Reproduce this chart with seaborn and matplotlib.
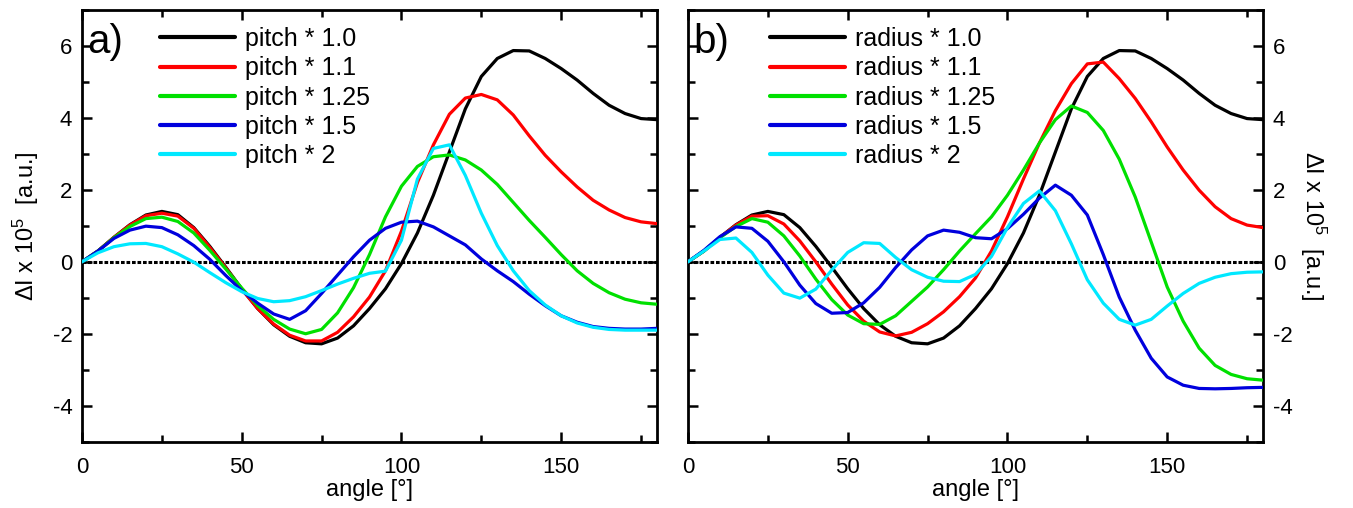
import matplotlib
matplotlib.use("Agg")
import matplotlib.pyplot as plt
import seaborn as sns
import pandas as pd
from matplotlib.ticker import MultipleLocator

# angle grid in degrees, values every 5 deg
angle = list(range(0, 181, 5))

# same base curve in both panels (pitch * 1.0 == radius * 1.0)
base = [0.0, 0.3, 0.68, 1.03, 1.3, 1.4, 1.31, 0.95, 0.43, -0.15, -0.75, -1.3, -1.75,
        -2.07, -2.25, -2.28, -2.12, -1.78, -1.3, -0.75, -0.05, 0.8, 1.85, 3.05, 4.25,
        5.15, 5.65, 5.87, 5.86, 5.65, 5.37, 5.05, 4.68, 4.35, 4.12, 3.98, 3.95]

pitch_11 = [0.0, 0.3, 0.68, 1.02, 1.28, 1.35, 1.27, 0.93, 0.4, -0.17, -0.76, -1.3, -1.73,
            -2.04, -2.2, -2.2, -1.96, -1.53, -0.98, -0.25, 0.85, 2.2, 3.25, 4.1, 4.55,
            4.65, 4.5, 4.08, 3.5, 2.96, 2.5, 2.08, 1.71, 1.44, 1.23, 1.11, 1.06]
pitch_125 = [0.0, 0.3, 0.67, 0.98, 1.2, 1.24, 1.12, 0.8, 0.32, -0.2, -0.73, -1.22, -1.6,
             -1.87, -2.0, -1.88, -1.42, -0.72, 0.2, 1.25, 2.1, 2.65, 2.92, 2.97, 2.83,
             2.55, 2.15, 1.65, 1.15, 0.68, 0.2, -0.25, -0.6, -0.86, -1.04, -1.14, -1.18]
pitch_15 = [0.0, 0.3, 0.65, 0.88, 0.99, 0.95, 0.75, 0.45, 0.07, -0.38, -0.8, -1.15, -1.45,
            -1.6, -1.36, -0.88, -0.37, 0.14, 0.6, 0.93, 1.1, 1.13, 0.97, 0.72, 0.47,
            0.08, -0.25, -0.55, -0.9, -1.22, -1.5, -1.68, -1.8, -1.85, -1.87, -1.87, -1.85]
pitch_2 = [0.0, 0.25, 0.42, 0.5, 0.51, 0.42, 0.22, -0.01, -0.3, -0.58, -0.83, -1.02, -1.11,
           -1.08, -0.97, -0.8, -0.62, -0.46, -0.32, -0.26, 0.6, 2.3, 3.15, 3.25, 2.4,
           1.35, 0.45, -0.25, -0.8, -1.2, -1.5, -1.7, -1.82, -1.88, -1.9, -1.9, -1.9]

radius_11 = [0.0, 0.3, 0.68, 1.02, 1.27, 1.28, 1.05, 0.58, 0.0, -0.62, -1.2, -1.65, -1.95,
             -2.06, -1.96, -1.72, -1.39, -0.97, -0.45, 0.3, 1.25, 2.3, 3.3, 4.2, 4.95,
             5.5, 5.55, 5.09, 4.54, 3.89, 3.19, 2.55, 1.99, 1.53, 1.2, 1.02, 0.95]
radius_125 = [0.0, 0.3, 0.67, 0.98, 1.2, 1.1, 0.72, 0.16, -0.48, -1.05, -1.48, -1.72, -1.74,
              -1.5, -1.1, -0.7, -0.22, 0.3, 0.78, 1.25, 1.85, 2.55, 3.3, 3.95, 4.33,
              4.15, 3.65, 2.85, 1.8, 0.55, -0.7, -1.65, -2.4, -2.88, -3.13, -3.25, -3.29]
radius_15 = [0.0, 0.32, 0.7, 0.97, 0.93, 0.57, 0.0, -0.65, -1.16, -1.43, -1.41, -1.14, -0.71,
             -0.16, 0.33, 0.72, 0.88, 0.82, 0.67, 0.64, 0.92, 1.32, 1.77, 2.13, 1.85,
             1.3, 0.2, -0.98, -1.9, -2.68, -3.2, -3.43, -3.52, -3.53, -3.52, -3.5, -3.49]
radius_2 = [0.0, 0.3, 0.62, 0.66, 0.26, -0.37, -0.87, -1.01, -0.76, -0.23, 0.26, 0.53, 0.51,
            0.12, -0.22, -0.43, -0.54, -0.55, -0.35, 0.15, 0.95, 1.62, 1.97, 1.42, 0.5,
            -0.5, -1.15, -1.6, -1.76, -1.6, -1.23, -0.88, -0.6, -0.43, -0.33, -0.29, -0.28]

pitch_labels = ["pitch * 1.0", "pitch * 1.1", "pitch * 1.25", "pitch * 1.5", "pitch * 2"]
radius_labels = ["radius * 1.0", "radius * 1.1", "radius * 1.25", "radius * 1.5", "radius * 2"]
colors = ["#000000", "#ff0000", "#00e000", "#0000dd", "#00e8ff"]


def to_long(labels, series):
    frames = []
    for lab, vals in zip(labels, series):
        frames.append(pd.DataFrame({"angle": angle, "dI": vals, "curve": lab}))
    return pd.concat(frames, ignore_index=True)


def draw_panel(ax, df, labels, tag, right_side):
    ax.axhline(0, color="black", lw=2.2, ls=(0, (1.2, 0.6)), zorder=1)
    sns.lineplot(data=df, x="angle", y="dI", hue="curve", hue_order=labels,
                 palette=colors, lw=2.3, ax=ax, zorder=3)
    ax.set_xlim(0, 180)
    ax.set_ylim(-5, 7)
    ax.xaxis.set_major_locator(MultipleLocator(50))
    ax.xaxis.set_minor_locator(MultipleLocator(25))
    ax.yaxis.set_major_locator(MultipleLocator(2))
    ax.yaxis.set_minor_locator(MultipleLocator(1))
    ax.tick_params(which="both", direction="in", top=True, bottom=True, left=True,
                   right=True, width=1.8, labelsize=16, colors="black")
    ax.tick_params(axis="x", pad=11)
    ax.tick_params(axis="y", pad=7)
    ax.tick_params(which="major", length=7)
    ax.tick_params(which="minor", length=5)
    for s in ax.spines.values():
        s.set_linewidth(2.0)
        s.set_color("black")
    ax.set_xlabel("angle [°]", fontsize=17, labelpad=1, color="black")
    ylab = r"$\Delta$I x 10$^5$  [a.u.]"
    if right_side:
        ax.tick_params(axis="y", labelleft=False, labelright=True)
        ax.yaxis.set_label_position("right")
        ax.set_ylabel(ylab, fontsize=17, rotation=270, labelpad=26, color="black")
    else:
        ax.set_ylabel(ylab, fontsize=17, labelpad=8, color="black")
    leg = ax.legend(loc="upper left", bbox_to_anchor=(0.136 if not right_side else 0.143, 0.96),
                    frameon=False, fontsize=18, handlelength=3.0, handletextpad=0.4,
                    labelspacing=0.21, borderaxespad=0, borderpad=0)
    for h in leg.get_lines():
        h.set_linewidth(3)
    for t in leg.get_texts():
        t.set_color("black")
    ax.text(0.01, 0.925, tag, transform=ax.transAxes, fontsize=29, va="center", ha="left",
            color="black")


sns.set_style("ticks")
plt.rcParams["font.family"] = ["Liberation Sans", "DejaVu Sans"]
plt.rcParams["mathtext.fontset"] = "custom"
plt.rcParams["mathtext.rm"] = "Liberation Sans"
plt.rcParams["mathtext.it"] = "Liberation Sans:italic"
plt.rcParams["axes.unicode_minus"] = False

fig = plt.figure(figsize=(13.53, 5.08), dpi=100)
ax_a = fig.add_axes([0.0606, 0.1305, 0.425, 0.85])
ax_b = fig.add_axes([0.5085, 0.1305, 0.425, 0.85])

df_a = to_long(pitch_labels, [base, pitch_11, pitch_125, pitch_15, pitch_2])
df_b = to_long(radius_labels, [base, radius_11, radius_125, radius_15, radius_2])

draw_panel(ax_a, df_a, pitch_labels, "a)", False)
draw_panel(ax_b, df_b, radius_labels, "b)", True)

fig.savefig("out.png", dpi=100)
